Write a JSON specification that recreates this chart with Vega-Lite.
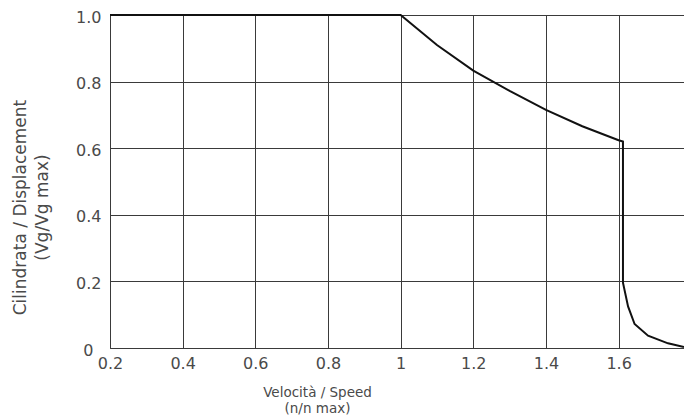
{
  "$schema": "https://vega.github.io/schema/vega-lite/v6.json",
  "width": 574,
  "height": 333,
  "autosize": {"type": "none"},
  "padding": {"left": 110, "top": 15, "right": 0, "bottom": 68},
  "background": "white",
  "config": {
    "view": {"stroke": null},
    "axis": {
      "labelFont": "DejaVu Sans",
      "titleFont": "DejaVu Sans",
      "labelColor": "#4a4a4a",
      "titleColor": "#4a4a4a",
      "titleFontWeight": "normal",
      "gridColor": "#3a3a3a",
      "gridWidth": 1,
      "gridOpacity": 1,
      "domainColor": "#3a3a3a",
      "domainWidth": 1,
      "ticks": false
    }
  },
  "data": {
    "values": [
      {"speed": 0.2, "disp": 1.0},
      {"speed": 1.0, "disp": 1.0},
      {"speed": 1.1, "disp": 0.91},
      {"speed": 1.2, "disp": 0.833},
      {"speed": 1.3, "disp": 0.772},
      {"speed": 1.4, "disp": 0.715},
      {"speed": 1.5, "disp": 0.666},
      {"speed": 1.6, "disp": 0.624},
      {"speed": 1.612, "disp": 0.62},
      {"speed": 1.612, "disp": 0.196},
      {"speed": 1.626, "disp": 0.125},
      {"speed": 1.644, "disp": 0.072},
      {"speed": 1.681, "disp": 0.037},
      {"speed": 1.736, "disp": 0.014},
      {"speed": 1.78, "disp": 0.003}
    ]
  },
  "mark": {"type": "line", "color": "#111", "strokeWidth": 2, "clip": false, "interpolate": "linear"},
  "encoding": {
    "x": {
      "field": "speed",
      "type": "quantitative",
      "scale": {"domain": [0.2, 1.78], "nice": false, "zero": false},
      "axis": {
        "values": [0.2, 0.4, 0.6, 0.8, 1.0, 1.2, 1.4, 1.6],
        "labelExpr": "datum.value == 1 ? '1' : format(datum.value, '.1f')",
        "labelFontSize": 16,
        "labelPadding": 7,
        "labelFlush": false,
        "labelOverlap": false,
        "grid": true,
        "title": ["Velocità / Speed", "(n/n max)"],
        "titleFontSize": 13.5,
        "titleLineHeight": 16,
        "titleX": 207,
        "titleY": 37,
        "titleBaseline": "top",
        "titleAlign": "center",
        "titleAnchor": null
      }
    },
    "y": {
      "field": "disp",
      "type": "quantitative",
      "scale": {"domain": [0, 1], "nice": false},
      "axis": {
        "values": [0, 0.2, 0.4, 0.6, 0.8, 1.0],
        "labelExpr": "datum.value == 0 ? '0' : format(datum.value, '.1f')",
        "labelFontSize": 16,
        "labelPadding": {"condition": {"test": "datum.value == 0", "value": 17}, "value": 9},
        "labelOffset": 2,
        "labelOverlap": false,
        "grid": true,
        "title": ["Cilindrata / Displacement", "(Vg/Vg max)"],
        "titleFontSize": 17,
        "titleLineHeight": 22,
        "titleAngle": -90,
        "titleX": -98,
        "titleY": 192,
        "titleBaseline": "top",
        "titleAlign": "center"
      }
    },
    "order": {"field": "speed", "type": "quantitative"}
  }
}
